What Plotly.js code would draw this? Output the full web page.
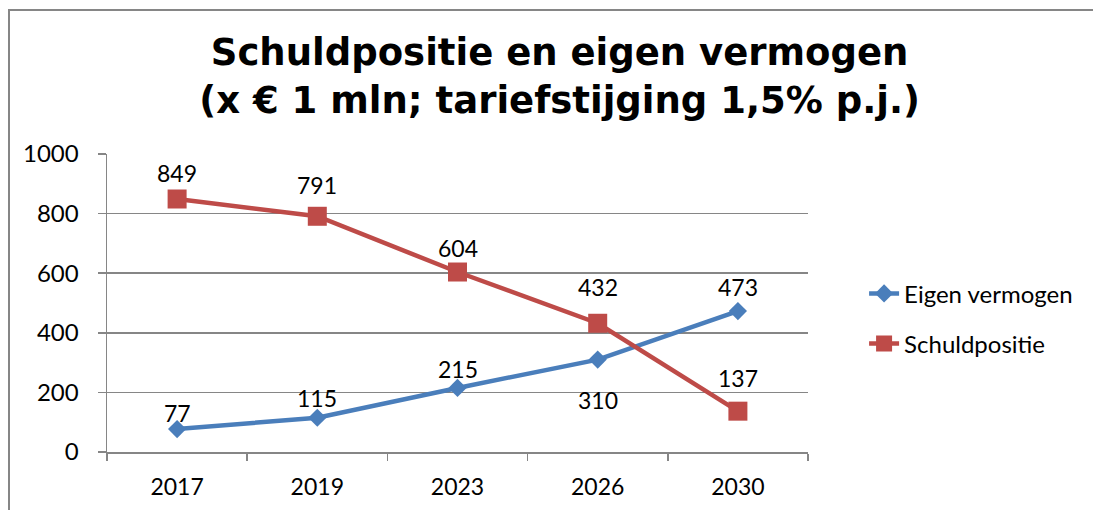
<!DOCTYPE html>
<html>
<head>
<meta charset="utf-8">
<script src="https://cdn.plot.ly/plotly-3.0.1.min.js"></script>
<style>html,body{margin:0;padding:0;background:#fff;}#chart{width:1093px;height:510px;}</style>
</head>
<body>
<div id="chart"></div>
<script>
// Data
var years = ['2017', '2019', '2023', '2026', '2030'];
var eigenVermogen = [77, 115, 215, 310, 473];
var schuldpositie = [849, 791, 604, 432, 137];
var yTicks = [0, 200, 400, 600, 800, 1000];

// Label placement (style: pixels the data label is raised above its point; negative = below)
var eigenLabelRaise = [16, 20, 19, -40, 24];
var schuldLabelRaise = [26, 31, 24, 36, 33];

var font = 'Lato, "Open Sans", sans-serif';
var gray = '#868686';
var blue = '#4A7EBB';
var red = '#BE4B48';

var traces = [
  {
    x: years, y: eigenVermogen, name: 'Eigen vermogen', legendgroup: 'a',
    type: 'scatter', mode: 'lines+markers',
    line: {color: blue, width: 4.5},
    marker: {symbol: 'diamond', size: 14, color: blue},
    cliponaxis: false
  },
  {
    x: years, y: schuldpositie, name: 'Schuldpositie', legendgroup: 'b',
    type: 'scatter', mode: 'lines+markers',
    line: {color: red, width: 4.5},
    marker: {symbol: 'square', size: 19, color: red},
    cliponaxis: false
  }
];

function makeLabels(xs, ys, raise) {
  return xs.map(function (x, i) {
    return {
      x: i, y: ys[i], xref: 'x', yref: 'y', text: String(ys[i]),
      showarrow: false, yshift: raise[i], xanchor: 'center', yanchor: 'middle',
      font: {family: font, size: 23, color: '#000'}
    };
  });
}

var layout = {
  width: 1093, height: 510,
  margin: {l: 107, r: 285, t: 154, b: 58, pad: 0},
  paper_bgcolor: '#fff', plot_bgcolor: '#fff',
  font: {family: font, size: 24, color: '#000'},
  title: {
    text: '<b>Schuldpositie en eigen vermogen<br>(x € 1 mln; tariefstijging 1,5% p.j.)</b>',
    font: {family: '"DejaVu Sans", Verdana, sans-serif', size: 37, color: '#000'},
    x: 0.512, xref: 'container', xanchor: 'center',
    y: 0.872, yref: 'container', yanchor: 'top'
  },
  xaxis: {
    type: 'category', range: [-0.5, 4.5],
    showgrid: false, zeroline: false,
    showline: true, linecolor: gray, linewidth: 1.5,
    ticks: 'outside', tickson: 'boundaries', ticklen: 7, tickcolor: gray, tickwidth: 1.5,
    tickfont: {family: font, size: 23, color: '#000'},
    ticklabelstandoff: 14
  },
  yaxis: {
    range: [0, 1000], tickvals: yTicks, ticktext: yTicks.map(String),
    showgrid: true, gridcolor: gray, gridwidth: 1.5, zeroline: false,
    showline: true, linecolor: gray, linewidth: 1.5,
    ticks: 'outside', ticklen: 8, tickcolor: gray, tickwidth: 1.5,
    tickfont: {family: font, size: 24, color: '#000'},
    ticklabelstandoff: 14
  },
  legend: {
    x: 1.08, xanchor: 'left', y: 0.447, yanchor: 'middle',
    font: {family: font, size: 24, color: '#000'},
    tracegroupgap: 16,
    bgcolor: 'rgba(0,0,0,0)'
  },
  showlegend: true,
  annotations: makeLabels(years, eigenVermogen, eigenLabelRaise).concat(makeLabels(years, schuldpositie, schuldLabelRaise)),
  shapes: [{
    type: 'path', xref: 'paper', yref: 'paper',
    path: 'M -0.1398,-0.2 L -0.1398,1.4832 L 1.41,1.4832',
    line: {color: gray, width: 2}
  }]
};

Plotly.newPlot('chart', traces, layout, {displayModeBar: false, staticPlot: true});
</script>
</body>
</html>
